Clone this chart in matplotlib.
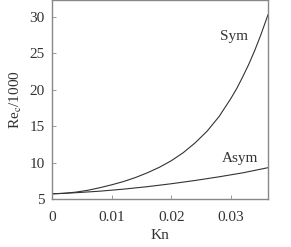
import numpy as np
import matplotlib
matplotlib.use('Agg')
import matplotlib.pyplot as plt

# ===================== DATA =====================
kn_sym = [0, 0.002, 0.004, 0.006, 0.008, 0.010, 0.012, 0.014, 0.016, 0.018, 0.020,
          0.022, 0.024, 0.026, 0.028, 0.030, 0.031, 0.032, 0.033, 0.034, 0.035, 0.0362]
re_sym = [5.72, 5.78, 5.95, 6.2, 6.55, 6.95, 7.4, 7.95, 8.6, 9.35, 10.25,
          11.35, 12.7, 14.3, 16.3, 18.8, 20.2, 21.8, 23.5, 25.4, 27.5, 30.25]

kn_asym = [0, 0.004, 0.008, 0.012, 0.016, 0.020, 0.024, 0.028, 0.032, 0.0362]
re_asym = [5.72, 5.87, 6.08, 6.36, 6.7, 7.1, 7.55, 8.05, 8.6, 9.3]

xticks = [0, 0.01, 0.02, 0.03]
xtick_labels = ['0', '0.01', '0.02', '0.03']
yticks = [5, 10, 15, 20, 25, 30]

# ===================== CONFIG =====================
plt.rcParams.update({
    'font.family': 'Liberation Serif',
    'font.size': 11,
    'mathtext.fontset': 'stix',
})

fig = plt.figure(figsize=(2.91, 2.47), dpi=100)
ax = fig.add_axes([0.178, 0.194, 0.743, 0.804])

ax.plot(kn_sym, re_sym, color='#333333', lw=0.8)
ax.plot(kn_asym, re_asym, color='#333333', lw=0.8)

ax.text(0.0305, 27.3, 'Sym', ha='center', va='center', color='#333333')
ax.text(0.0315, 10.5, 'Asym', ha='center', va='center', color='#333333')

ax.set_xlim(0, 0.0362)
ax.set_ylim(5, 32.2)
ax.set_xticks(xticks)
ax.set_xticklabels(xtick_labels)
ax.set_yticks(yticks)

ax.set_xlabel('Kn', labelpad=4, color='#333333')
ax.set_ylabel(r'Re$_{\rm c}$/1000', labelpad=4, color='#333333')

for s in ax.spines.values():
    s.set_color('#888888')
    s.set_linewidth(1.0)
ax.tick_params(direction='in', length=3, width=0.6, color='#888888',
               labelcolor='#333333', top=False, right=False)
ax.tick_params(axis='x', pad=8.5)
ax.tick_params(axis='y', pad=5)

fig.savefig('out.png', dpi=100)
